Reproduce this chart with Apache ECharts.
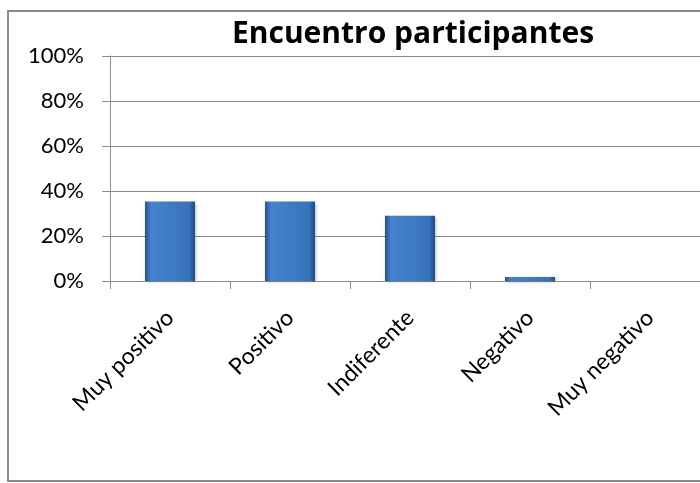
<!DOCTYPE html>
<html><head><meta charset="utf-8">
<script src="https://cdn.jsdelivr.net/npm/echarts@6/dist/echarts.min.js"></script>
<style>html,body{margin:0;padding:0;background:#fff;overflow:hidden;width:700px;height:483px}#c{width:730px;height:483px}</style>
</head><body><div id="c"></div>
<script>
var titleText = 'Encuentro participantes';
var categories = ['Muy positivo', 'Positivo', 'Indiferente', 'Negativo', 'Muy negativo'];
var values = [35.3, 35.3, 29.0, 1.8, 0];
var yTicks = [0, 20, 40, 60, 80, 100];

var chart = echarts.init(document.getElementById('c'), null, {renderer: 'canvas'});
var barColor = new echarts.graphic.LinearGradient(0, 0, 1, 0, [
  {offset: 0, color: '#26508a'},
  {offset: 0.12, color: '#4683cf'},
  {offset: 0.5, color: '#3e7bc7'},
  {offset: 0.88, color: '#3873bd'},
  {offset: 1, color: '#1f4880'}
]);
chart.setOption({
  animation: false,
  backgroundColor: '#fff',
  title: {
    text: titleText, left: 408, textAlign: 'center', top: 14,
    textStyle: {fontFamily: 'Open Sans', fontWeight: 'bold', fontSize: 30, color: '#000'}
  },
  graphic: [{
    type: 'rect', shape: {x: 8, y: 11, width: 740, height: 470},
    style: {fill: 'none', stroke: '#8a8a8a', lineWidth: 2}, z: -1
  }],
  grid: {left: 110, top: 56, width: 600, height: 225, containLabel: false},
  xAxis: {
    type: 'category', data: categories,
    axisLine: {lineStyle: {color: '#8c8c8c', width: 1}},
    axisTick: {show: true, length: 8, lineStyle: {color: '#8c8c8c'}},
    axisLabel: {rotate: 45, margin: 33, fontFamily: 'Lato', fontSize: 23, color: '#000', interval: 0}
  },
  yAxis: {
    type: 'value', min: 0, max: 100, interval: 20,
    axisLine: {show: true, lineStyle: {color: '#8c8c8c'}},
    axisTick: {show: true, length: 8, lineStyle: {color: '#8c8c8c'}},
    splitLine: {lineStyle: {color: '#8c8c8c', width: 1}},
    axisLabel: {margin: 26, fontFamily: 'Lato', fontSize: 22, color: '#000',
      formatter: function (v) { return yTicks.indexOf(v) >= 0 ? v + '%' : ''; }}
  },
  series: [{
    type: 'bar', data: values, barWidth: 50,
    itemStyle: {color: barColor,
      shadowColor: 'rgba(0,0,0,0.25)', shadowBlur: 3, shadowOffsetX: 1, shadowOffsetY: 1}
  }]
});
</script></body></html>
